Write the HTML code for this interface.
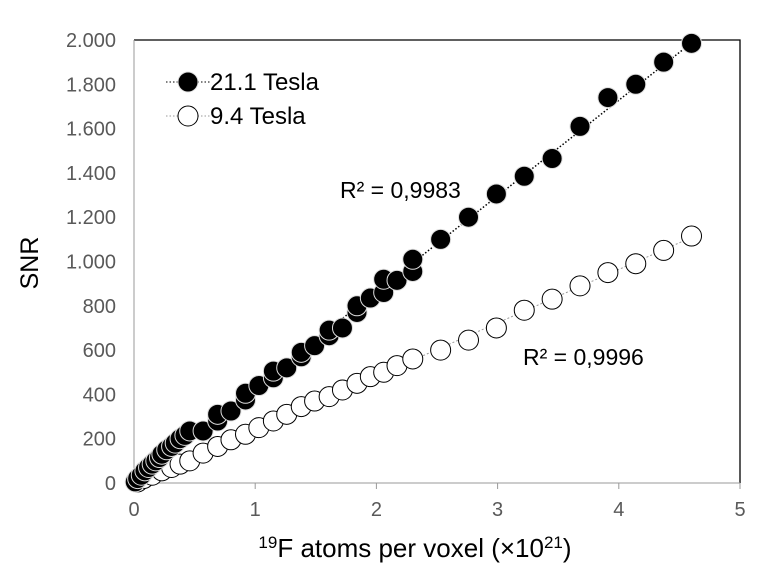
<!DOCTYPE html>
<html><head><meta charset="utf-8"><style>
body{margin:0;background:#fff;}
svg text{font-family:"Liberation Sans",Arial,sans-serif;}
</style></head><body>
<svg id="chart" width="771" height="575" xmlns="http://www.w3.org/2000/svg">
<rect width="771" height="575" fill="#fff"/>
<g id="axes"></g><g id="marks"></g>
</svg>
<script>
const xTicks=[0,1,2,3,4,5];
const yTicks=[0,200,400,600,800,1000,1200,1400,1600,1800,2000];
const yTickLabels=["0","200","400","600","800","1.000","1.200","1.400","1.600","1.800","2.000"];
const x21=[4.60,4.37,4.14,3.91,3.68,3.45,3.22,2.99,2.76,2.53,2.30,2.30,2.17,2.06,2.06,1.95,1.84,1.84,1.72,1.61,1.61,1.49,1.38,1.38,1.26,1.15,1.15,1.03,0.92,0.92,0.80,0.69,0.69,0.57,0.46,0.42,0.38,0.34,0.31,0.27,0.23,0.21,0.18,0.15,0.12,0.09,0.06,0.03,0.01];
const y21=[1985,1900,1800,1740,1610,1465,1385,1305,1200,1100,1010,955,915,920,860,835,800,770,700,690,665,620,590,570,520,505,475,440,405,375,325,310,280,235,235,215,200,180,165,150,130,115,100,85,70,55,35,20,5];
const x94=[4.60,4.37,4.14,3.91,3.68,3.45,3.22,2.99,2.76,2.53,2.30,2.17,2.06,1.95,1.84,1.72,1.61,1.49,1.38,1.26,1.15,1.03,0.92,0.80,0.69,0.57,0.46,0.38,0.31,0.23,0.15,0.08,0.03];
const y94=[1115,1050,990,950,890,830,780,700,645,600,560,530,500,480,450,420,390,370,345,310,280,250,220,195,165,135,100,85,70,55,35,20,5];
const trendSlopes=[432,241];
const NS="http://www.w3.org/2000/svg";
const X=v=>134+v*121.2, Y=v=>483-v*0.2215;
const ax=document.getElementById('axes'), mk=document.getElementById('marks');
function el(p,t,a,txt){const e=document.createElementNS(NS,t);for(const k in a)e.setAttribute(k,a[k]);if(txt!=null)e.textContent=txt;p.appendChild(e);return e;}
let f=el(ax,'path',{d:`M${X(0)},${Y(2000)}H${X(5)}V${Y(0)}`,fill:'none',stroke:'#000','stroke-width':1.3});

let la=el(ax,'line',{x1:X(0),y1:Y(2000),x2:X(0),y2:Y(0),stroke:'#999'});

let ba=el(ax,'line',{x1:X(0),y1:Y(0),x2:X(5),y2:Y(0),stroke:'#999'});

xTicks.forEach(t=>{el(ax,'line',{x1:X(t),x2:X(t),y1:Y(0),y2:Y(0)+6,stroke:'#999'});
 const tx=el(ax,'text',{x:X(t),y:516,'text-anchor':'middle','font-size':20,fill:'#595959'},String(t));
 });
yTicks.forEach((t,i)=>{const tx=el(ax,'text',{x:116,y:Y(t)+7,'text-anchor':'end','font-size':20,fill:'#595959'},yTickLabels[i]);
 });
let yt=el(ax,'text',{x:0,y:0,transform:'translate(38,263) rotate(-90)','text-anchor':'middle','font-size':25,fill:'#000'},'SNR');

let xt=el(ax,'text',{x:415,y:557,'text-anchor':'middle','font-size':26,fill:'#000'});

xt.innerHTML='<tspan font-size="17" dy="-9">19</tspan><tspan dy="9">F atoms per voxel (×10</tspan><tspan font-size="17" dy="-9">21</tspan><tspan dy="9">)</tspan>';
let t1=el(mk,'line',{x1:X(0),y1:Y(0),x2:X(4.6),y2:Y(4.6*trendSlopes[0]),stroke:'#000','stroke-width':1.5,'stroke-dasharray':'1.5,2'});

let t2=el(mk,'line',{x1:X(0),y1:Y(0),x2:X(4.6),y2:Y(4.6*trendSlopes[1]),stroke:'#999','stroke-width':1,'stroke-dasharray':'2,2'});

for(let i=x94.length-1;i>=0;i--){const c=el(mk,'circle',{cx:X(x94[i]),cy:Y(y94[i]),r:10,fill:'#fff',stroke:'#000','stroke-width':1});
 }
for(let i=x21.length-1;i>=0;i--){const c=el(mk,'circle',{cx:X(x21[i]),cy:Y(y21[i]),r:10,fill:'#000',stroke:'#ddd','stroke-width':1});
 }
let r1=el(mk,'text',{x:340,y:198,'font-size':23,fill:'#000'},'R² = 0,9983');

let r2=el(mk,'text',{x:523,y:365,'font-size':23,fill:'#000'},'R² = 0,9996');

[["21.1 Tesla","#000","#000",82],["9.4 Tesla","#fff","#000",116]].forEach(([lab,fill,st,y],i)=>{
 const g=el(mk,'g',{});
 el(g,'line',{x1:166,x2:210,y1:y,y2:y,stroke:i?'#999':'#000','stroke-dasharray':'1.5,2'});
 el(g,'circle',{cx:188,cy:y,r:10,fill:fill,stroke:i?'#000':'#ddd'});
 el(g,'text',{x:210,y:y+8,'font-size':24,fill:'#000'},lab);});
</script>
</body></html>
